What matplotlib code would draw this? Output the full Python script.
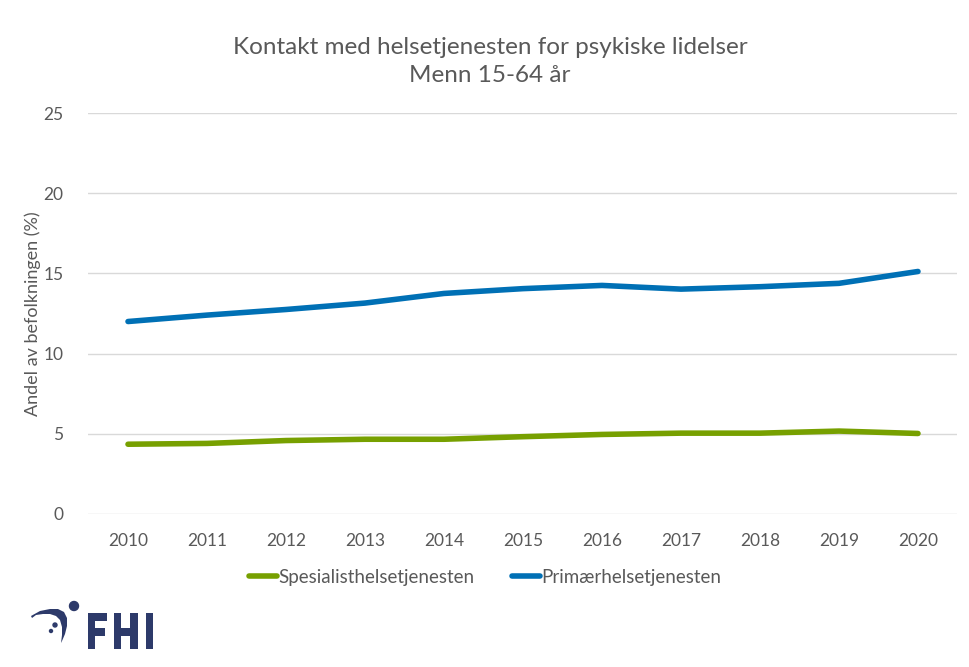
import numpy as np
import matplotlib
matplotlib.use("Agg")
import matplotlib.pyplot as plt
from matplotlib.patches import Circle, Polygon, Rectangle

# data
years = [2010, 2011, 2012, 2013, 2014, 2015, 2016, 2017, 2018, 2019, 2020]
spesialist = [4.35, 4.4, 4.58, 4.66, 4.66, 4.82, 4.96, 5.04, 5.04, 5.17, 5.02]
primaer = [12.0, 12.4, 12.75, 13.15, 13.75, 14.05, 14.25, 14.02, 14.17, 14.38, 15.12]
y_ticks = [0, 5, 10, 15, 20, 25]

GREEN = "#77A000"
BLUE = "#0070B5"
TXT = "#595959"
NAVY = "#2D3A6A"

plt.rcParams['font.family'] = ['Lato', 'DejaVu Sans']

fig = plt.figure(figsize=(9.7, 6.67), dpi=100)
ax = fig.add_axes([88.5 / 970, 153 / 667, 869 / 970, 401 / 667])

x = np.arange(len(years))
ax.plot(x, spesialist, color=GREEN, lw=4, solid_capstyle="round", label="Spesialisthelsetjenesten")
ax.plot(x, primaer, color=BLUE, lw=4, solid_capstyle="round", label="Primærhelsetjenesten")

ax.set_xlim(-0.5, len(years) - 0.5)
ax.set_ylim(0, 25)
ax.set_yticks(y_ticks)
ax.set_xticks(x)
ax.set_xticklabels([str(y) for y in years])
ax.tick_params(axis="both", length=0, labelsize=12.5, colors=TXT)
ax.tick_params(axis="x", pad=14)
ax.tick_params(axis="y", pad=18)
ax.grid(axis="y", color="#D9D9D9", lw=1)
ax.set_axisbelow(True)
for s in ax.spines.values():
    s.set_visible(False)

ax.set_ylabel("Andel av befolkningen (%)", fontsize=13, color=TXT, labelpad=2)

fig.text(490 / 970, 1 - 47 / 667, "Kontakt med helsetjenesten for psykiske lidelser",
         ha="center", va="center", fontsize=17.5, color=TXT)
fig.text(490 / 970, 1 - 76 / 667, "Menn 15-64 år",
         ha="center", va="center", fontsize=17.5, color=TXT)

leg = fig.legend(loc="center", bbox_to_anchor=(485 / 970, 1 - 577 / 667), ncol=2,
                 frameon=False, fontsize=13.5, handlelength=1.5, handletextpad=0.05,
                 columnspacing=2.0)
for t in leg.get_texts():
    t.set_color(TXT)

# FHI logo (pixel coords, y down from 587)
lax = fig.add_axes([0, 0, 200 / 970, 80 / 667])
lax.set_xlim(0, 200)
lax.set_ylim(80, 0)
lax.axis("off")
outer_pts = [(31, 29), (40, 24), (50, 22), (58, 22), (64, 25), (67, 31), (67, 39),
             (65, 47), (62, 54), (60, 58)]
inner_pts = [(61, 56), (62, 48), (62, 40), (60, 33), (56, 29), (50, 27), (43, 27),
             (36, 28), (32, 31)]
lax.add_patch(Polygon(outer_pts + inner_pts, closed=True, color=NAVY, lw=0))
lax.add_patch(Circle((74, 19), 4.5, color=NAVY))
lax.add_patch(Circle((55, 38), 2.0, color=NAVY))
lax.add_patch(Circle((51, 44), 1.5, color=NAVY))
sw = 7.5
top, bot = 26, 62
mid = 41
# F
lax.add_patch(Rectangle((88, top), sw, bot - top, color=NAVY, lw=0))
lax.add_patch(Rectangle((88, top), 19, sw, color=NAVY, lw=0))
lax.add_patch(Rectangle((88, mid), 17, sw, color=NAVY, lw=0))
# H
lax.add_patch(Rectangle((114, top), sw, bot - top, color=NAVY, lw=0))
lax.add_patch(Rectangle((138 - sw, top), sw, bot - top, color=NAVY, lw=0))
lax.add_patch(Rectangle((114, mid), 24, sw, color=NAVY, lw=0))
# I
lax.add_patch(Rectangle((146, top), sw, bot - top, color=NAVY, lw=0))

fig.savefig("out.png", dpi=100, facecolor="white")
